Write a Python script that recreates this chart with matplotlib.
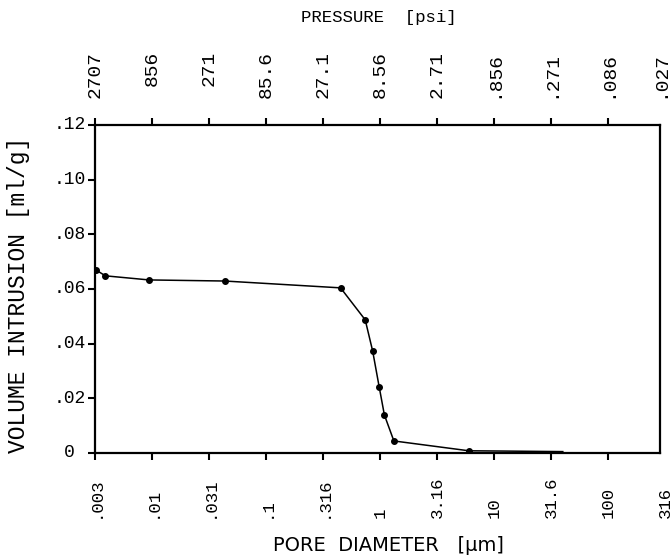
import numpy as np
import matplotlib
matplotlib.use('Agg')
import matplotlib.pyplot as plt

# pore diameter [um] and cumulative volume intrusion [ml/g]
diameter = [0.0032, 0.0039, 0.0094, 0.0434, 0.45, 0.74, 0.86, 0.98, 1.09, 1.32, 6.0, 12.0, 40.0]
volume = [0.0670, 0.0648, 0.0633, 0.0629, 0.0604, 0.0487, 0.0373, 0.0243, 0.0139, 0.0044, 0.0008, 0.0007, 0.0005]
n_marked = 11  # last two points are the unmarked tail along the axis

xticks = [0.00316, 0.01, 0.0316, 0.1, 0.316, 1, 3.16, 10, 31.6, 100, 316]
xlabels = ['.003', '.01', '.031', '.1', '.316', '1', '3.16', '10', '31.6', '100', '316']
plabels = ['2707', '856', '271', '85.6', '27.1', '8.56', '2.71', '.856', '.271', '.086', '.027']
yticks = [0, 0.02, 0.04, 0.06, 0.08, 0.10, 0.12]
ylabels = ['0', '.02', '.04', '.06', '.08', '.10', '.12']

mono = ['Liberation Mono', 'DejaVu Sans Mono']

fig = plt.figure(figsize=(6.72, 5.56), dpi=100)
ax = fig.add_axes([0.1414, 0.1853, 0.8408, 0.590])

ax.plot(diameter, volume, color='black', lw=1.1,
        marker='o', ms=4, markevery=list(range(n_marked)))

ax.set_xscale('log')
xmax = 285
ax.set_xlim(0.00316, xmax)
ax.set_ylim(0, 0.12)
ax.minorticks_off()

ax.set_xticks([x for x in xticks if x <= xmax])
ax.set_yticks(yticks)
ax.set_xticklabels([])
ax.set_yticklabels([])
ax.tick_params(axis='x', which='both', bottom=True, top=True, direction='out',
               length=5, width=1.5)
ax.tick_params(axis='y', left=True, right=False, direction='out', length=5, width=1.5)
for s in ax.spines.values():
    s.set_linewidth(1.6)

xt = ax.get_xaxis_transform()
yt = ax.get_yaxis_transform()
for x, lab in zip(xticks, xlabels):
    ax.text(x, -0.198, lab, transform=xt, rotation=90, rotation_mode='anchor',
            ha='left', va='center', fontsize=12.5, family=mono, clip_on=False)
# the pressure scale's last label sits at the frame's right edge
for x, lab in zip(xticks, plabels):
    ax.text(min(x, xmax), 1.226, lab, transform=xt, rotation=90, rotation_mode='anchor',
            ha='right', va='center', fontsize=14, family=mono, clip_on=False)
for y, lab in zip(yticks, ylabels):
    ax.text(-0.045, y, lab, transform=yt, ha='center', va='center',
            fontsize=13, family=mono, clip_on=False)

fig.text(0.564, 0.969, 'PRESSURE  [psi]', ha='center', va='center',
         fontsize=12.5, family=mono)
fig.text(0.578, 0.018, 'PORE  DIAMETER   [\u03bcm]', ha='center', va='center',
         fontsize=14, family=['Liberation Sans Narrow', 'DejaVu Sans'])
fig.text(0.027, 0.47, 'VOLUME INTRUSION [ml/g]', rotation=90, ha='center',
         va='center', fontsize=16.5, family=mono)

fig.savefig('out.png', dpi=100)
